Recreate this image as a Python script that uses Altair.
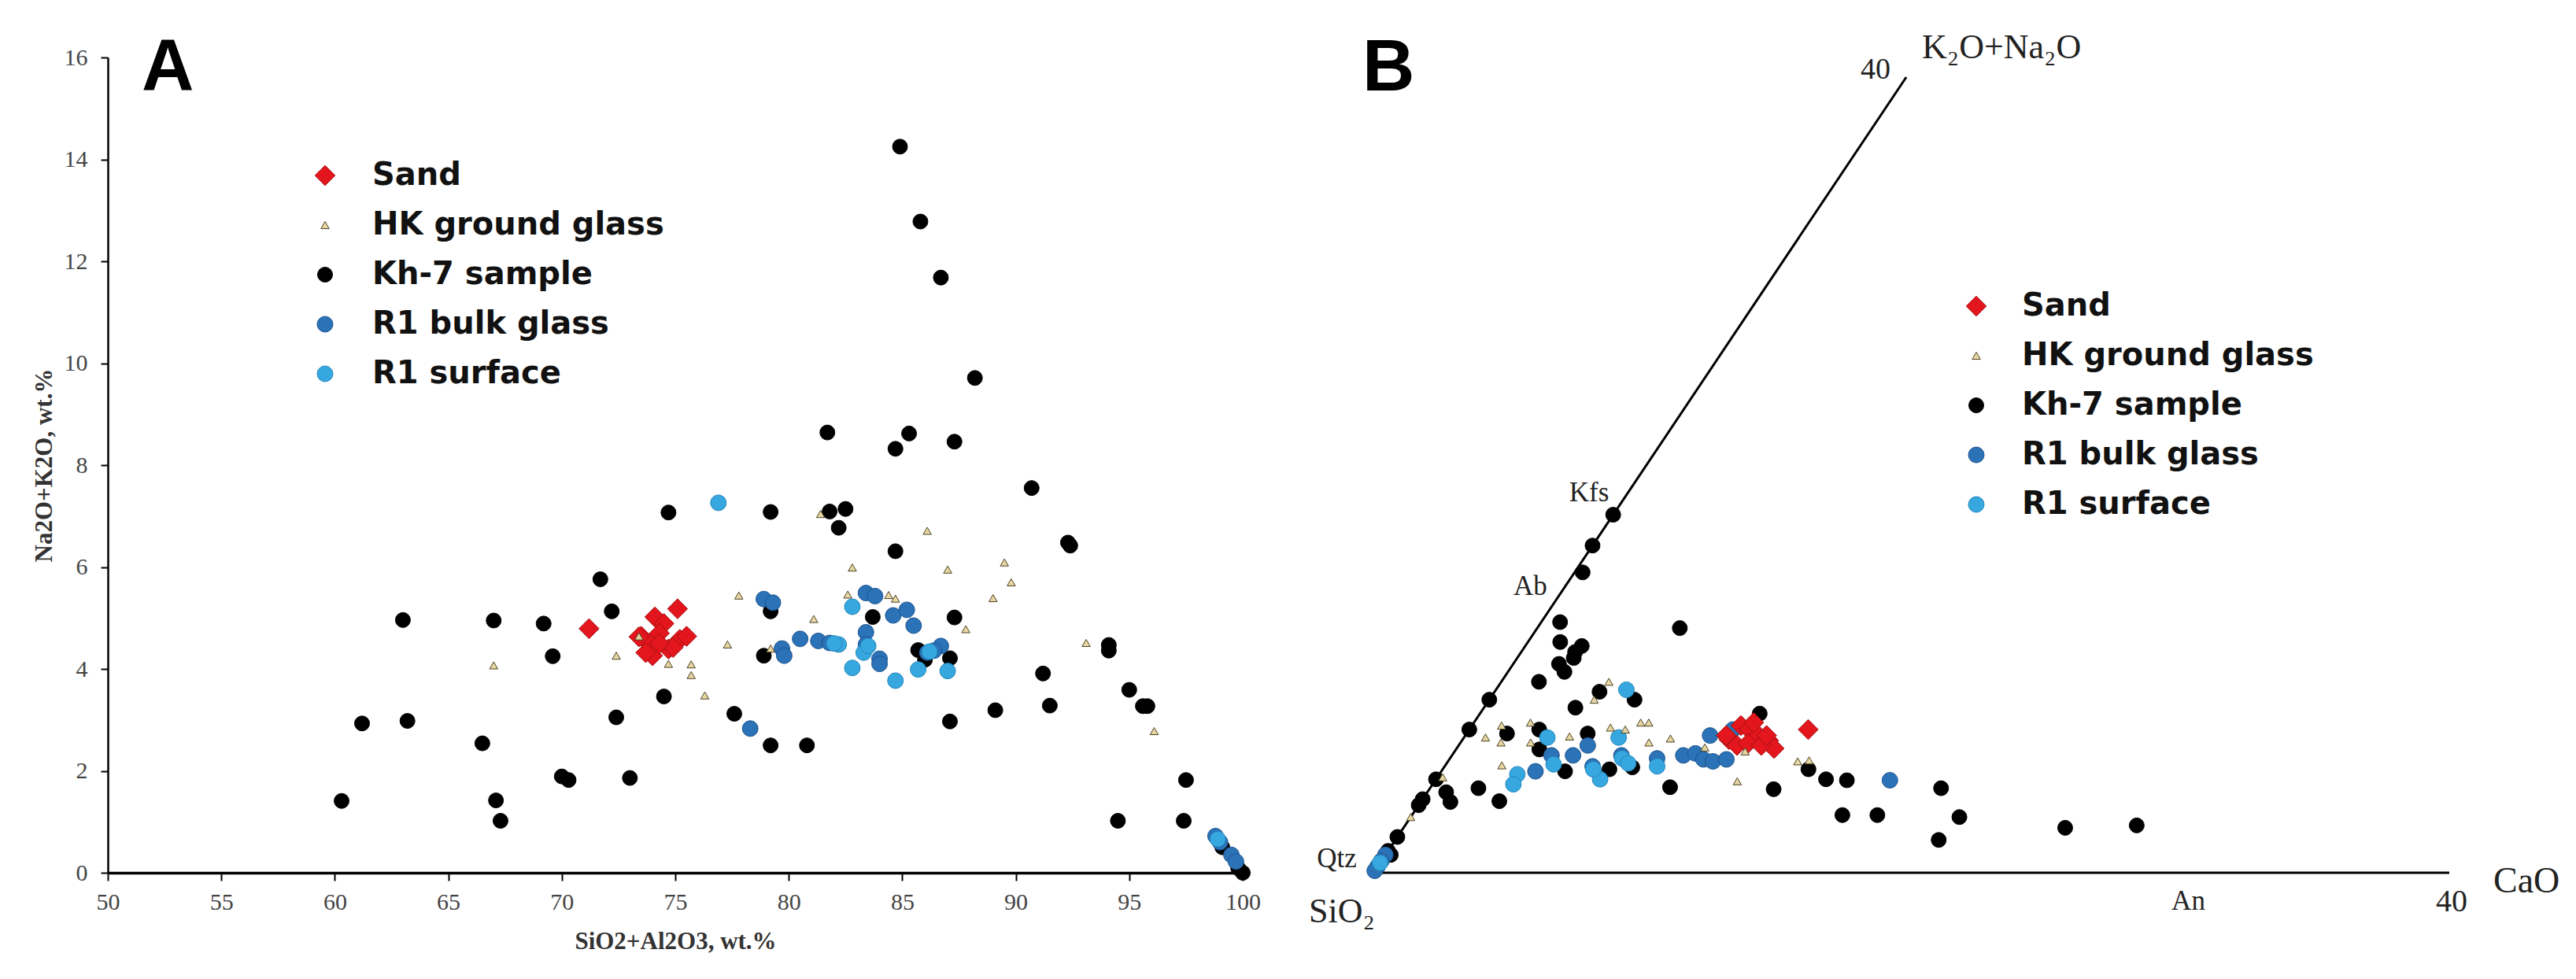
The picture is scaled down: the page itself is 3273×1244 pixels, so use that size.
import altair as alt
import pandas as pd

# ---------------- series definitions ----------------
SERIES = ["Sand", "HK ground glass", "Kh-7 sample", "R1 bulk glass", "R1 surface"]
FILLS = ["#e3161d", "#e6d6a2", "#000000", "#2b72b6", "#36a8df"]
STROKES = ["#a30f12", "#4d4226", "#000000", "#1d548f", "#2486bd"]
SHAPES = ["diamond", "triangle-up", "circle", "circle", "circle"]
SIZES = [650, 110, 361, 400, 400]

# ---------------- panel A data: SiO2+Al2O3 (x) vs Na2O+K2O (y), wt.% ----------------
SAND_A_X = [71.2, 75.1, 74.1, 74.5, 73.5, 73.9, 74.0, 74.7, 75.2, 75.5, 74.3, 74.9, 73.7, 73.4, 74.3]
SAND_A_Y = [4.79, 5.18, 5.02, 4.89, 4.64, 4.51, 4.26, 4.39, 4.58, 4.64, 4.70, 4.42, 4.32, 4.63, 4.50]

HK_A_X = [67.0, 72.4, 81.4, 86.1, 82.8, 87.0, 89.5, 89.8, 77.8, 82.6, 84.4, 84.7, 89.0, 81.1, 87.8,
          77.3, 93.1, 79.2, 74.7, 75.7, 75.7, 76.3, 96.1, 73.4]
HK_A_Y = [4.07, 4.26, 7.04, 6.71, 5.99, 5.95, 6.09, 5.70, 5.44, 5.46, 5.45, 5.38, 5.39, 4.98, 4.78,
          4.48, 4.51, 4.40, 4.10, 4.09, 3.88, 3.48, 2.78, 4.64]

KH7_A_X = [71.7, 72.2, 63.0, 67.0, 69.2, 69.6, 61.2, 63.2, 72.4, 66.5, 70.0, 70.3, 73.0, 60.3, 67.1, 67.3,
           84.9, 85.8, 86.7, 88.2, 81.7, 85.3, 84.7, 87.3, 90.7,
           74.7, 79.2, 81.8, 82.5, 82.2, 84.7, 92.3, 92.4,
           79.2, 83.7, 87.3, 78.9, 85.7, 86.0, 87.1, 94.1, 94.1, 91.2,
           74.5, 77.6, 91.5, 89.1, 95.0, 95.6, 95.8, 87.1, 79.2, 80.8,
           97.5, 94.5, 97.4, 99.1, 99.8, 100.0]
KH7_A_Y = [5.76, 5.13, 4.96, 4.95, 4.89, 4.25, 2.93, 2.98, 3.05, 2.54, 1.89, 1.82, 1.86, 1.41, 1.42, 1.02,
           14.25, 12.78, 11.68, 9.71, 8.64, 8.62, 8.32, 8.46, 7.55,
           7.07, 7.08, 7.09, 7.14, 6.77, 6.31, 6.48, 6.42,
           5.13, 5.02, 5.01, 4.26, 4.37, 4.18, 4.21, 4.47, 4.36, 3.91,
           3.46, 3.12, 3.28, 3.19, 3.59, 3.27, 3.27, 2.97, 2.50, 2.50,
           1.82, 1.02, 1.02, 0.50, 0.09, 0.0]

BULK_A_X = [78.9, 79.3, 79.7, 79.8, 80.5, 81.3, 81.8, 83.4, 83.8, 84.6, 85.2, 85.5, 83.4, 83.4, 84.0,
            84.0, 86.7, 86.4, 86.1, 78.3, 98.8, 99.0, 99.5, 99.7]
BULK_A_Y = [5.37, 5.30, 4.40, 4.26, 4.59, 4.55, 4.51, 5.49, 5.43, 5.05, 5.16, 4.85, 4.72, 4.48, 4.20,
            4.10, 4.45, 4.36, 4.32, 2.83, 0.72, 0.60, 0.35, 0.22]

SURF_A_X = [76.9, 82.8, 82.2, 83.3, 83.5, 82.8, 84.7, 85.7, 87.0, 86.2, 98.9, 82.0]
SURF_A_Y = [7.26, 5.22, 4.48, 4.32, 4.45, 4.02, 3.77, 3.99, 3.96, 4.34, 0.66, 4.50]

X_TICKS_A = [50, 55, 60, 65, 70, 75, 80, 85, 90, 95, 100]
Y_TICKS_A = [0, 2, 4, 6, 8, 10, 12, 14, 16]
X_TITLE_A = "SiO2+Al2O3, wt.%"
Y_TITLE_A = "Na2O+K2O, wt.%"

# ---------------- panel B data: CaO and K2O+Na2O (ternary, SiO2 apex) ----------------
SAND_B_CAO = [12.6, 10.0, 10.4, 10.9, 11.4, 11.8, 9.9, 10.35, 10.7, 11.25, 10.4, 9.7, 11.2]
SAND_B_ALK = [7.2, 7.4, 7.2, 6.9, 6.65, 6.25, 6.7, 6.4, 6.5, 6.4, 7.55, 6.9, 6.9]

HK_B_CAO = [4.0, 3.9, 1.1, 0.8, 1.5, 2.1, 2.6, 3.9, 5.2, 5.8, 6.2, 6.5, 7.0, 7.7, 9.2, 10.8, 11.25,
            13.0, 13.4, 2.1, 0.2, 0.0]
HK_B_ALK = [9.6, 8.7, 7.4, 6.8, 6.55, 7.55, 6.55, 6.85, 7.3, 7.2, 7.55, 7.55, 6.55, 6.75, 6.3, 6.1, 4.6,
            5.6, 5.65, 5.4, 4.8, 2.8]

KH7_B_CAO = [0.0, 0.0, 0.3, 0.0, 0.0, 0.0, 0.0, 0.0, 0.0, 0.0, 0.2,
             0.7, 1.2, 2.1, 2.0, 2.1, 1.7, 2.1, 5.3, 1.4, 3.9, 5.4, 3.4, 10.4,
             1.5, 2.6, 4.5, 3.1, 4.6, 6.2, 7.0,
             0.7, 1.1, 1.8, 2.9, 8.9, 12.8, 13.6, 14.5, 15.3, 16.0, 17.3,
             19.0, 20.4, 20.2, 24.6, 27.2]
KH7_B_ALK = [18.0, 16.45, 15.1, 8.7, 7.2, 4.7, 3.7, 3.4, 1.8, 1.1, 0.9,
             12.6, 11.6, 11.4, 11.1, 10.8, 10.5, 10.1, 12.3, 9.6, 9.1, 8.7, 8.3, 8.0,
             7.0, 7.2, 7.0, 6.2, 5.1, 5.2, 5.3,
             4.05, 3.56, 4.25, 3.6, 4.3, 4.2, 5.2, 4.7, 4.65, 2.9, 2.9,
             4.25, 2.8, 1.65, 2.26, 2.38]

BULK_B_CAO = [9.8, 9.1, 8.6, 9.0, 9.45, 9.85, 10.3, 6.3, 4.8, 4.5, 3.7, 3.5, 5.5, 7.7, 16.9,
              0.0, 0.0, 0.0, 0.0]
BULK_B_ALK = [7.2, 6.9, 5.9, 6.0, 5.7, 5.6, 5.7, 5.9, 6.4, 5.9, 5.9, 5.1, 5.35, 5.75, 4.65,
              0.9, 0.6, 0.3, 0.1]

SURF_B_CAO = [4.85, 3.1, 5.75, 6.4, 6.75, 7.9, 6.1, 2.9, 3.0, 5.6, 4.0, 0.0]
SURF_B_ALK = [9.2, 6.8, 6.8, 5.75, 5.5, 5.35, 4.7, 4.95, 4.45, 5.2, 5.45, 0.5]

# ternary frame: the two axes run from 0 to 40 %
AXIS_NAME = ["CaO", "CaO", "alk", "alk"]
AXIS_CAO = [0, 40, 0, 0]
AXIS_ALK = [0, 0, 0, 40]

# ---------------- helpers ----------------
DRAW_ORDER = [2, 3, 4, 0, 1]  # Kh-7, R1 bulk, R1 surface, Sand, HK


def series_frame(xs_list, ys_list, xname, yname):
    parts = []
    for i in DRAW_ORDER:
        parts.append(pd.DataFrame({xname: xs_list[i], yname: ys_list[i], "series": SERIES[i]}))
    return pd.concat(parts, ignore_index=True)


dfA = series_frame([SAND_A_X, HK_A_X, KH7_A_X, BULK_A_X, SURF_A_X],
                   [SAND_A_Y, HK_A_Y, KH7_A_Y, BULK_A_Y, SURF_A_Y], "x", "y")
dfB = series_frame([SAND_B_CAO, HK_B_CAO, KH7_B_CAO, BULK_B_CAO, SURF_B_CAO],
                   [SAND_B_ALK, HK_B_ALK, KH7_B_ALK, BULK_B_ALK, SURF_B_ALK], "c", "k")


def style_encodings(legend):
    return dict(
        fill=alt.Fill("series:N", scale=alt.Scale(domain=SERIES, range=FILLS), legend=legend),
        stroke=alt.Stroke("series:N", scale=alt.Scale(domain=SERIES, range=STROKES), legend=legend),
        shape=alt.Shape("series:N", scale=alt.Scale(domain=SERIES, range=SHAPES), legend=legend),
        size=alt.Size("series:N", scale=alt.Scale(type="ordinal", domain=SERIES, range=SIZES),
                      legend=legend),
    )


LEG = dict(orient="none", title=None, labelFont="DejaVu Sans", labelFontSize=40,
           labelFontWeight="bold", labelColor="#111111", rowPadding=23,
           symbolStrokeWidth=1, padding=0, labelLimit=0)

# ---------------- panel A ----------------
XA = alt.X("x:Q", scale=alt.Scale(domain=[50, 100], nice=False, zero=False),
           axis=alt.Axis(values=X_TICKS_A, title=X_TITLE_A, domainWidth=3.5, tickSize=10,
                         labelPadding=12, titlePadding=20))
YA = alt.Y("y:Q", scale=alt.Scale(domain=[0, 16], nice=False, zero=False),
           axis=alt.Axis(values=Y_TICKS_A, title=Y_TITLE_A, domainWidth=2.5, tickSize=9,
                         labelPadding=17, titlePadding=9))

pointsA = alt.Chart(dfA).mark_point(filled=True, opacity=1, strokeWidth=1).encode(
    x=XA, y=YA,
    **style_encodings(alt.Legend(legendX=256, legendY=130, labelOffset=40, **LEG)),
)

letterA = alt.Chart(pd.DataFrame({"x": [51.49], "y": [15.37], "t": ["A"]})).mark_text(
    font="Liberation Sans", fontSize=92, fontWeight="bold", color="black",
    align="left", baseline="alphabetic"
).encode(x=XA, y=YA, text="t:N")

panelA = alt.layer(pointsA, letterA).properties(width=1442, height=1036)

# ---------------- panel B ----------------
KX = 0.4953   # horizontal shift per unit of K2O+Na2O
KY = 0.7396   # vertical rise per unit of K2O+Na2O
B_VMAX = 30.315


def tern(chart):
    return chart.transform_calculate(u=f"datum.c + {KX}*datum.k", v=f"{KY}*datum.k")


XB = alt.X("u:Q", scale=alt.Scale(domain=[0, 40], nice=False, zero=False), axis=None)
YB = alt.Y("v:Q", scale=alt.Scale(domain=[0, B_VMAX], nice=False, zero=False), axis=None)

linesB = tern(alt.Chart(pd.DataFrame({"axis": AXIS_NAME, "c": AXIS_CAO, "k": AXIS_ALK}))
              .mark_line(color="black", strokeWidth=3)).encode(x=XB, y=YB, detail="axis:N")

pointsB = tern(alt.Chart(dfB).mark_point(filled=True, opacity=1, strokeWidth=1)).encode(
    x=XB, y=YB,
    **style_encodings(alt.Legend(legendX=746, legendY=296, labelOffset=38, **LEG)),
)


def tlabel(text, c, k, size, align, dx, dy):
    return tern(alt.Chart(pd.DataFrame({"t": [text], "c": [c], "k": [k]})).mark_text(
        font="Liberation Serif", fontSize=size, color="#222222", align=align,
        baseline="middle", dx=dx, dy=dy)).encode(x=XB, y=YB, text="t:N")


labelsB = [
    tlabel("Qtz", 0, 0.7, 35, "right", -33, 0),
    tlabel("Ab", 0, 14.4, 35, "right", -23, 0),
    tlabel("Kfs", 0, 19.1, 35, "right", -24, 0),
    tlabel("An", 30.3, 0, 35, "center", 0, 36),
    tlabel("40", 40, 0, 40, "center", 3, 37),
    tlabel("CaO", 40, 0, 46, "left", 56, 11),
    tlabel("SiO\u2082", 0, 0, 44, "center", -40, 50),
    tlabel("40", 0, 40, 38, "center", -39, -9),
    tlabel("K\u2082O+Na\u2082O", 0, 40, 44, "left", 20, -37),
]

letterB = alt.Chart(pd.DataFrame({"u": [-0.41], "v": [29.09], "t": ["B"]})).mark_text(
    font="Liberation Sans", fontSize=92, fontWeight="bold", color="black",
    align="left", baseline="alphabetic"
).encode(x=XB, y=YB, text="t:N")

panelB = alt.layer(linesB, pointsB, *labelsB, letterB).properties(width=1367, height=1036)

chart = alt.hconcat(panelA, panelB, spacing=166, bounds="flush").resolve_scale(
    fill="independent", stroke="independent", shape="independent", size="independent"
).properties(
    padding={"left": 32, "top": 30, "right": 5, "bottom": 5},
    background="white",
).configure_view(strokeWidth=0).configure_axis(
    domainColor="black", tickColor="black", tickWidth=2, grid=False,
    labelFont="Liberation Serif", labelFontSize=30, labelColor="#444444",
    titleFont="Liberation Serif", titleFontSize=31, titleFontWeight="bold", titleColor="#333333",
    labelFlush=False, labelOverlap=False,
)

chart.save("out.html", embed_options={"renderer": "svg", "actions": False})
